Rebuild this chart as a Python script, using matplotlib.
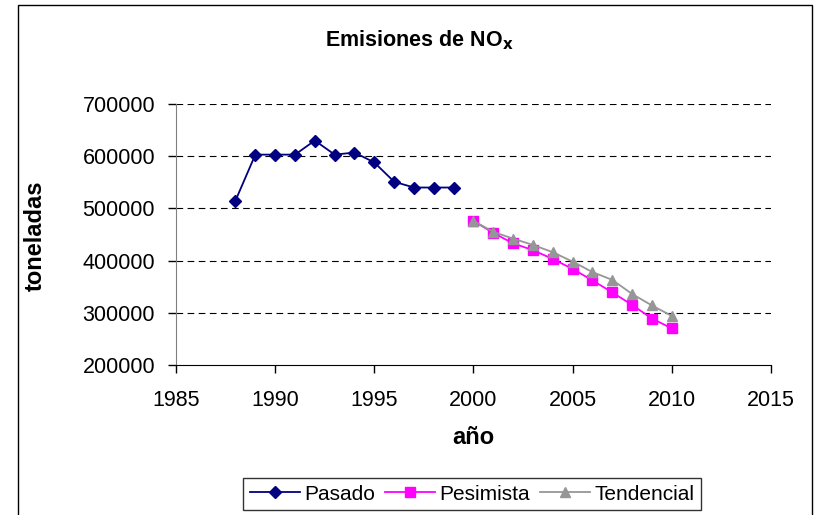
import matplotlib.pyplot as plt
from matplotlib.patches import Rectangle

plt.rcParams['font.family'] = ['Liberation Sans', 'DejaVu Sans']

# data
years_pasado = [1988, 1989, 1990, 1991, 1992, 1993, 1994, 1995, 1996, 1997, 1998, 1999]
pasado = [515000, 603000, 603000, 603000, 630000, 603000, 607000, 588000, 551000, 540000, 540000, 540000]

years_future = [2000, 2001, 2002, 2003, 2004, 2005, 2006, 2007, 2008, 2009, 2010]
pesimista = [476000, 453000, 433000, 420000, 403000, 384000, 362000, 339000, 315000, 289000, 270000]
tendencial = [476000, 455000, 442000, 430000, 416000, 398000, 378000, 363000, 336000, 314000, 294000]

xticks = [1985, 1990, 1995, 2000, 2005, 2010, 2015]
yticks = [200000, 300000, 400000, 500000, 600000, 700000]

fig = plt.figure(figsize=(8.14, 5.15), dpi=100)
ax = fig.add_axes([176 / 814, 1 - 365 / 515, (771 - 176) / 814, (365 - 104) / 515])

# chart border like the spreadsheet frame
fig.patches.append(Rectangle((18 / 814, -0.02), (812 - 18) / 814, 1 - 5 / 515 + 0.02,
                             transform=fig.transFigure, fill=False, edgecolor='black', linewidth=1))

ax.plot(years_pasado, pasado, color='#000080', marker='D', markersize=6.5, linewidth=1.3, label='Pasado')
ax.plot(years_future, pesimista, color='#FF00FF', marker='s', markersize=7.5, linewidth=1.3, label='Pesimista')
ax.plot(years_future, tendencial, color='#969696', marker='^', markersize=7.5, linewidth=1.3, label='Tendencial')

ax.set_xlim(1985, 2015)
ax.set_ylim(200000, 700000)
ax.set_xticks(xticks)
ax.set_yticks(yticks)
ax.tick_params(labelsize=15.5, direction='out', length=6, width=1)
ax.tick_params(axis='x', pad=12)
ax.tick_params(axis='y', pad=9)

for y in yticks[1:]:
    ax.axhline(y, color='black', linestyle=(0, (6, 4)), linewidth=0.8, zorder=0)

ax.spines['top'].set_visible(False)
ax.spines['right'].set_visible(False)
ax.spines['left'].set_color('#808080')
ax.spines['bottom'].set_color('black')

ax.set_xlabel('año', fontsize=17, fontweight='bold')
ax.set_ylabel('toneladas', fontsize=17, fontweight='bold')
ax.xaxis.set_label_coords(0.5, (365 - 438) / 261, transform=ax.transAxes)
ax.yaxis.set_label_coords((35 - 176) / 595, (365 - 236) / 261, transform=ax.transAxes)
ax.xaxis.label.set_va('center')
ax.yaxis.label.set_va('center')

fig.text(0.515, 1 - 40 / 515, 'Emisiones de NO$_\\mathbf{x}$', fontsize=15.5, fontweight='bold',
         ha='center', va='center')

leg = fig.legend(loc='center', bbox_to_anchor=(472 / 814, 1 - 494 / 515), ncol=3, fontsize=15,
                 frameon=True, fancybox=False, edgecolor='black', handlelength=2.4,
                 handletextpad=0.2, columnspacing=0.5, borderpad=0.3)
leg.get_frame().set_linewidth(1)

fig.savefig('out.png', dpi=100)
